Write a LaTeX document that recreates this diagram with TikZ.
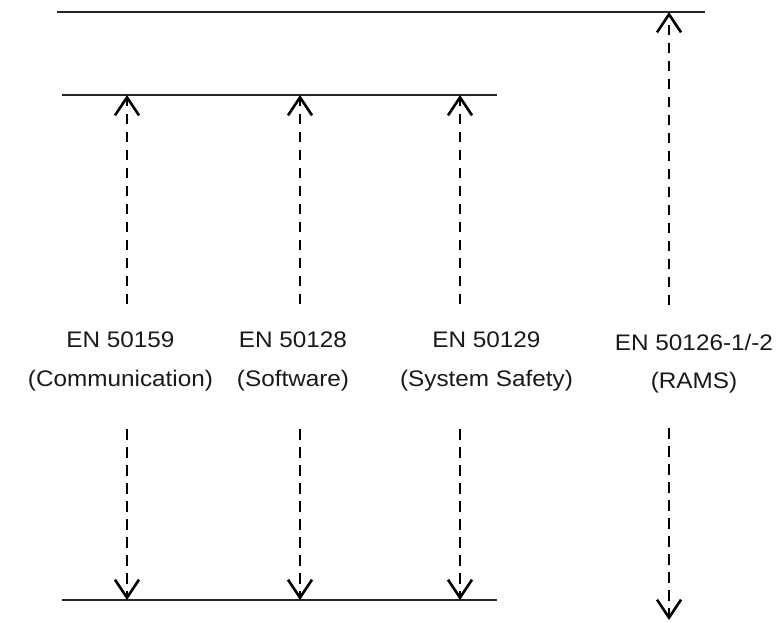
\documentclass[tikz,border=0pt]{standalone}
\usepackage{fontspec}
\setmainfont{Liberation Sans}[FakeStretch=1.08]
\usetikzlibrary{arrows.meta}

\tikzset{
  level/.style={line width=2.4pt, draw=black!85},
  link/.style={line width=2.6pt, draw=black, dash pattern=on 10.5pt off 7.5pt,
    -{Straight Barb[length=18pt, width=24pt, line width=2.6pt]}},
  stdname/.style={anchor=base, inner sep=0pt, text=black!90,
    font=\fontsize{22.5}{26}\selectfont},
}

\begin{document}
\begin{tikzpicture}[x=1pt, y=-1pt]
  \useasboundingbox (0,0) rectangle (776,622);

  % horizontal levels
  \coordinate (topL) at (57,12);
  \coordinate (topR) at (705,12);
  \coordinate (midL) at (62,95);
  \coordinate (midR) at (497,95);
  \coordinate (botL) at (62,600);
  \coordinate (botR) at (497,600);
  \draw[level] (topL) -- (topR);
  \draw[level] (midL) -- (midR);
  \draw[level] (botL) -- (botR);

  % arrow end points of each column
  \foreach \n/\x in {a/127, b/300, c/460} {
    \coordinate (\n-up)   at (\x,95);
    \coordinate (\n-hi)   at (\x,304);
    \coordinate (\n-lo)   at (\x,429);
    \coordinate (\n-down) at (\x,600);
  }
  \coordinate (d-up)   at (669,12);
  \coordinate (d-hi)   at (669,305);
  \coordinate (d-lo)   at (669,428);
  \coordinate (d-down) at (669,620);

  \foreach \n in {a,b,c,d} {
    \draw[link] (\n-hi) -- (\n-up);
    \draw[link] (\n-lo) -- (\n-down);
  }

  % standard labels
  \node[stdname] (stdA) at (120.5,347) {EN 50159};
  \node[stdname] (topA) at (120.5,386) {(Communication)};
  \node[stdname] (stdB) at (293,347) {EN 50128};
  \node[stdname] (topB) at (293,386) {(Software)};
  \node[stdname] (stdC) at (486.5,347) {EN 50129};
  \node[stdname] (topC) at (486.5,386) {(System Safety)};
  \node[stdname] (stdD) at (694,350) {EN 50126-1/-2};
  \node[stdname] (topD) at (694,388) {(RAMS)};
\end{tikzpicture}
\end{document}
